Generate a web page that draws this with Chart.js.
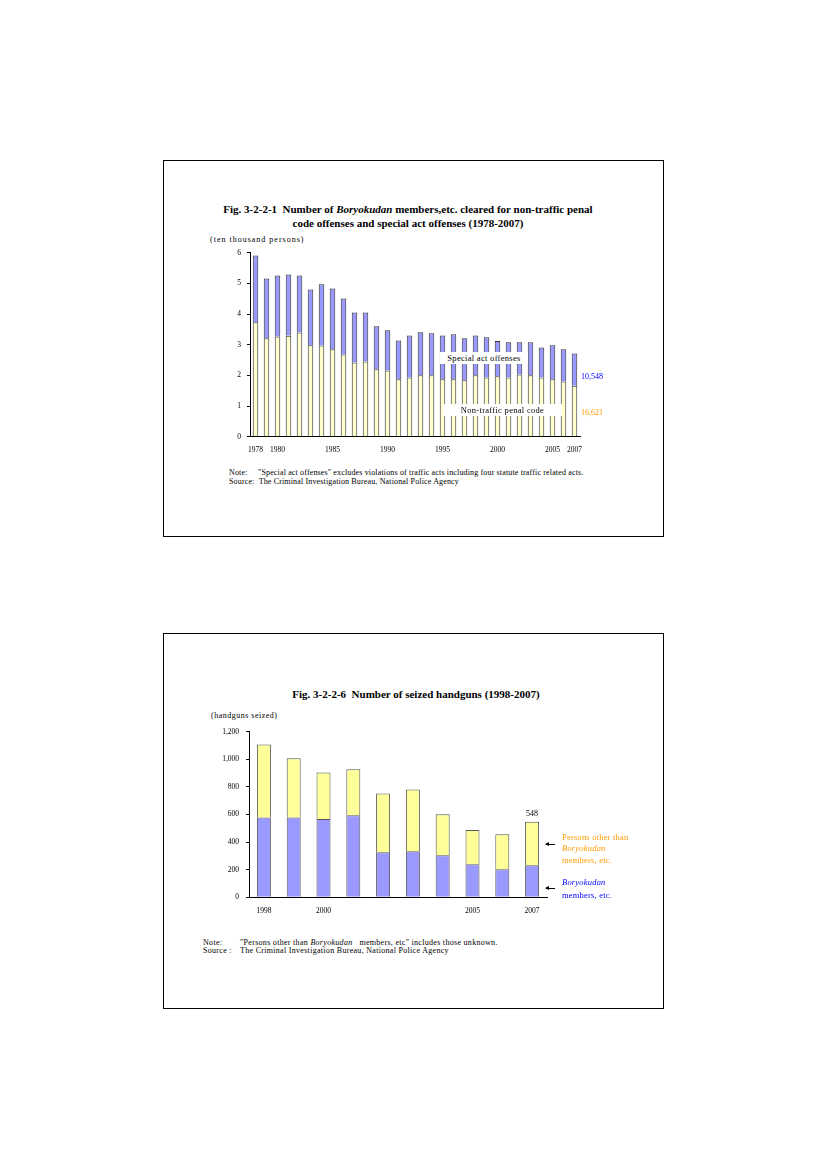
<!DOCTYPE html>
<html>
<head>
<meta charset="utf-8">
<script src="https://cdn.jsdelivr.net/npm/chart.js@4/dist/chart.umd.min.js"></script>
<style>
  html, body { margin: 0; padding: 0; background: #fff; }
  body { width: 826px; height: 1169px; position: relative; font-family: "Liberation Serif", "Times New Roman", serif; color: #000; }
  .frame { position: absolute; border: 1px solid #000; box-sizing: border-box; }
  .t { position: absolute; white-space: nowrap; line-height: 1; }
  .title { font-weight: bold; font-size: 11px; }
  .small { font-size: 8px; }
  .n1 { letter-spacing: 0.15px; }
  .n2 { letter-spacing: 0.3px; }
  .cv { position: absolute; }
  .box { position: absolute; background: #fff; font-size: 8.5px; letter-spacing: 0.3px; text-align: center; line-height: 12px; white-space: nowrap; }
  .lab { font-size: 8.5px; letter-spacing: 0.2px; }
  .arr { position: absolute; height: 1px; background: #000; width: 9px; }
  .arr::before { content: ""; position: absolute; left: -1px; top: -2px; border-right: 4px solid #000; border-top: 2.5px solid transparent; border-bottom: 2.5px solid transparent; }
</style>
</head>
<body>
<!-- Figure 1 frame -->
<div class="frame" style="left:163px; top:160px; width:501px; height:377px;"></div>
<div class="t title" style="left:208px; top:204px; width:400px; text-align:center;">Fig. 3-2-2-1&nbsp; Number of <i>Boryokudan</i> members,etc. cleared for non-traffic penal</div>
<div class="t title" style="left:208px; top:218px; width:400px; text-align:center;">code offenses and special act offenses (1978-2007)</div>
<div class="t small" style="left:210px; top:236px; letter-spacing:1px;">(ten thousand persons)</div>
<canvas id="c1" class="cv" style="left:200px; top:240px;" width="420" height="225"></canvas>
<div class="box" style="left:440px; top:352px; width:88px;">Special act offenses</div>
<div class="box" style="left:443px; top:404px; width:119px;">Non-traffic penal code</div>
<div class="t" style="left:581px; top:373px; font-size:8px; color:#0000FF;">10,548</div>
<div class="t" style="left:581px; top:409px; font-size:8px; color:#FF9900;">16,621</div>
<div class="t small n1" style="left:229px; top:469px;">Note:</div>
<div class="t small n1" style="left:258px; top:469px;">"Special act offenses" excludes violations of traffic acts including four statute traffic related acts.</div>
<div class="t small n1" style="left:229px; top:478px;">Source:&nbsp; The Criminal Investigation Bureau, National Police Agency</div>

<!-- Figure 2 frame -->
<div class="frame" style="left:163px; top:633px; width:501px; height:376px;"></div>
<div class="t title" style="left:266px; top:689px; width:300px; text-align:center;">Fig. 3-2-2-6&nbsp; Number of seized handguns (1998-2007)</div>
<div class="t small" style="left:211px; top:712px; letter-spacing:0.5px;">(handguns seized)</div>
<canvas id="c2" class="cv" style="left:200px; top:720px;" width="380" height="205"></canvas>
<div class="t" style="left:522px; top:810px; width:20px; text-align:center; font-size:8px;">548</div>
<div class="arr" style="left:546px; top:844px;"></div>
<div class="t lab" style="left:562px; top:833px; color:#FF9900;">Persons other than</div>
<div class="t lab" style="left:562px; top:844px; color:#FF9900;"><i>Boryokudan</i></div>
<div class="t lab" style="left:562px; top:856px; color:#FF9900;">members, etc.</div>
<div class="arr" style="left:546px; top:888px;"></div>
<div class="t lab" style="left:562px; top:878px; color:#0000FF;"><i>Boryokudan</i></div>
<div class="t lab" style="left:562px; top:891px; color:#0000FF;">members, etc.</div>
<div class="t small n2" style="left:203px; top:939px;">Note:</div>
<div class="t small n2" style="left:240px; top:939px;">"Persons other than <i>Boryokudan</i>&nbsp;&nbsp; members, etc" includes those unknown.</div>
<div class="t small n2" style="left:203px; top:947px;">Source :</div>
<div class="t small n2" style="left:240px; top:947px;">The Criminal Investigation Bureau, National Police Agency</div>

<script>
// ---------- Figure 1 data (ten thousand persons) ----------
const years1 = ['1978','1979','1980','1981','1982','1983','1984','1985','1986','1987',
                '1988','1989','1990','1991','1992','1993','1994','1995','1996','1997',
                '1998','1999','2000','2001','2002','2003','2004','2005','2006','2007'];
const shownYears1 = ['1978','1980','1985','1990','1995','2000','2005','2007'];
const nonTrafficPenal = [3.73,3.21,3.27,3.29,3.40,2.98,2.97,2.85,2.68,2.42,
                         2.45,2.20,2.16,1.87,1.93,2.00,2.00,1.87,1.87,1.84,
                         2.00,1.93,1.97,1.93,2.03,2.00,1.93,1.87,1.80,1.66];
const specialAct = [2.18,1.95,1.99,2.00,1.86,1.82,2.00,1.98,1.83,1.63,
                    1.60,1.40,1.31,1.27,1.37,1.41,1.37,1.43,1.47,1.37,
                    1.30,1.31,1.15,1.15,1.05,1.08,0.98,1.11,1.05,1.05];
const yTicks1 = [0,1,2,3,4,5,6];

// ---------- Figure 2 data (handguns seized) ----------
const years2 = ['1998','1999','2000','2001','2002','2003','2004','2005','2006','2007'];
const shownYears2 = ['1998','2000','2005','2007'];
const boryokudanGuns = [579,579,567,594,326,333,304,239,203,232];
const otherGuns = [529,428,338,333,427,449,297,249,253,316];
const yTicks2 = [0,200,400,600,800,1000,1200];

const serif = '"Liberation Serif", "Times New Roman", serif';

function fixedY(w) { return function(scale){ scale.width = w; }; }
function fixedX(h) { return function(scale){ scale.height = h; }; }

new Chart(document.getElementById('c1'), {
  type: 'bar',
  data: {
    labels: years1,
    datasets: [
      { label: 'Non-traffic penal code', data: nonTrafficPenal, backgroundColor: '#FFFFCC',
        borderColor: '#333333', borderWidth: 1, borderSkipped: 'bottom',
        barPercentage: 0.5, categoryPercentage: 1.0 },
      { label: 'Special act offenses', data: specialAct, backgroundColor: '#9999FF',
        borderColor: '#333333', borderWidth: 1, borderSkipped: 'bottom',
        barPercentage: 0.5, categoryPercentage: 1.0 }
    ]
  },
  options: {
    responsive: false, animation: false, devicePixelRatio: 1,
    layout: { padding: { top: 12.7, right: 40, bottom: 0, left: 0 } },
    plugins: { legend: { display: false }, tooltip: { enabled: false } },
    scales: {
      x: {
        stacked: true,
        afterFit: fixedX(28.3),
        grid: { display: false, drawTicks: false },
        border: { color: '#000', width: 1 },
        ticks: {
          autoSkip: false, maxRotation: 0, padding: 9, color: '#000',
          font: { family: serif, size: 7.5 },
          callback: function(v) { const l = years1[v]; return shownYears1.includes(l) ? l : ''; }
        }
      },
      y: {
        stacked: true, min: 0, max: 6,
        afterFit: fixedY(50),
        afterBuildTicks: function(s){ s.ticks = yTicks1.map(v => ({ value: v })); },
        grid: { drawOnChartArea: false, tickLength: 3, color: '#000' },
        border: { color: '#000', width: 1 },
        ticks: { padding: 6, color: '#000', font: { family: serif, size: 7.5 } }
      }
    }
  }
});

new Chart(document.getElementById('c2'), {
  type: 'bar',
  data: {
    labels: years2,
    datasets: [
      { label: 'Boryokudan members, etc.', data: boryokudanGuns, backgroundColor: '#9999FF',
        borderColor: '#555555', borderWidth: 1, borderSkipped: 'bottom',
        barPercentage: 0.47, categoryPercentage: 1.0 },
      { label: 'Persons other than Boryokudan members, etc.', data: otherGuns, backgroundColor: '#FFFF99',
        borderColor: '#555555', borderWidth: 1, borderSkipped: 'bottom',
        barPercentage: 0.47, categoryPercentage: 1.0 }
    ]
  },
  options: {
    responsive: false, animation: false, devicePixelRatio: 1,
    layout: { padding: { top: 11.7, right: 33, bottom: 0, left: 0 } },
    plugins: { legend: { display: false }, tooltip: { enabled: false } },
    scales: {
      x: {
        stacked: true,
        afterFit: fixedX(27.7),
        grid: { display: false, drawTicks: false },
        border: { color: '#000', width: 1 },
        ticks: {
          autoSkip: false, maxRotation: 0, padding: 9, color: '#000',
          font: { family: serif, size: 7.5 },
          callback: function(v) { const l = years2[v]; return shownYears2.includes(l) ? l : ''; }
        }
      },
      y: {
        stacked: true, min: 0, max: 1200,
        afterFit: fixedY(49),
        afterBuildTicks: function(s){ s.ticks = yTicks2.map(v => ({ value: v })); },
        grid: { drawOnChartArea: false, tickLength: 3, color: '#000' },
        border: { color: '#000', width: 1 },
        ticks: { padding: 7, color: '#000', font: { family: serif, size: 7.5 },
                 callback: function(v){ return v.toLocaleString('en-US'); } }
      }
    }
  }
});
</script>
</body>
</html>
